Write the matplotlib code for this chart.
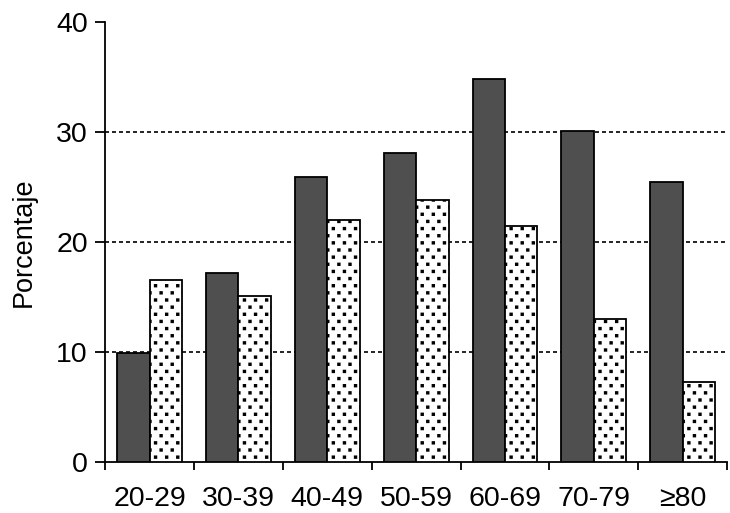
import matplotlib
matplotlib.use("Agg")
import matplotlib.pyplot as plt
import matplotlib.hatch as mhatch
from matplotlib.path import Path
import numpy as np

categories = ["20-29", "30-39", "40-49", "50-59", "60-69", "70-79", "≥80"]
series_dark = [9.9, 17.2, 25.9, 28.1, 34.8, 30.1, 25.5]
series_dotted = [16.6, 15.1, 22.0, 23.8, 21.5, 13.0, 7.3]
yticks = [0, 10, 20, 30, 40]


class SquareDots(mhatch.HatchPatternBase):
    """Staggered lattice of small filled squares used for the '.' hatch."""
    def __init__(self, hatch, density):
        n = hatch.count('.')
        self.centers = []
        if n:
            cols, rows = 9 * n, 14 * n
            for r in range(rows + 1):
                yy = r / rows
                if r % 2 == 0:
                    xs = np.arange(cols + 1) / cols
                else:
                    xs = (np.arange(cols) + 0.5) / cols
                for xx in xs:
                    self.centers.append((xx, yy))
        self.num_vertices = len(self.centers) * 5

    def set_vertices_and_codes(self, vertices, codes):
        s = 0.01
        sq = np.array([[-s, -s], [s, -s], [s, s], [-s, s], [-s, -s]])
        cur = 0
        for c in self.centers:
            vertices[cur:cur + 5] = sq + np.array(c)
            codes[cur] = Path.MOVETO
            codes[cur + 1:cur + 4] = Path.LINETO
            codes[cur + 4] = Path.CLOSEPOLY
            cur += 5


mhatch._hatch_types = [t for t in mhatch._hatch_types
                       if t is not mhatch.SmallFilledCircles] + [SquareDots]

plt.rcParams['font.family'] = ['Liberation Sans', 'DejaVu Sans']
plt.rcParams['hatch.linewidth'] = 1.0

fig = plt.figure(figsize=(7.30, 5.13), dpi=100)
ax = fig.add_axes([0.144, 0.099, 0.852, 0.858])

x = np.arange(len(categories))
w = 0.365
ax.bar(x - w/2, series_dark, width=w, color="#4f4f4f", edgecolor="black", linewidth=1.3, zorder=3)
ax.bar(x + w/2, series_dotted, width=w, color="white", edgecolor="black", linewidth=1.3, hatch=".", zorder=3)

for v in [10, 20, 30]:
    ax.axhline(v, color="black", linestyle=(0, (2.4, 1.8)), linewidth=1.2, zorder=1)

ax.set_xlim(-0.5, len(categories) - 0.5)
ax.set_ylim(0, 40)
ax.set_yticks(yticks)
ax.set_yticklabels([str(t) for t in yticks], fontsize=20.5)
ax.set_xticks(x)
ax.set_xticklabels(categories, fontsize=20.5)
ax.tick_params(axis='x', which='major', length=0, pad=17)
ax.set_xticks(np.arange(-0.5, len(categories)), minor=True)
ax.tick_params(axis='x', which='minor', length=6, width=1.3, direction='out')
ax.tick_params(axis='y', length=7.5, width=1.3, direction='out', pad=5)

for s in ['top', 'right']:
    ax.spines[s].set_visible(False)
for s in ['left', 'bottom']:
    ax.spines[s].set_linewidth(1.3)

ax.set_ylabel("Porcentaje", fontsize=19.5, labelpad=14)

fig.savefig("out.png", dpi=100)
